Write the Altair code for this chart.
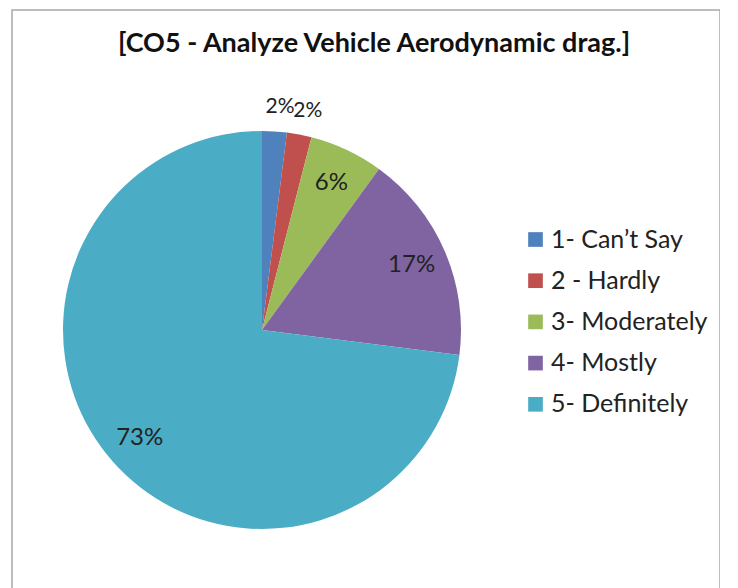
import altair as alt
import pandas as pd

categories = ["1- Can\u2019t Say", "2 - Hardly", "3- Moderately", "4- Mostly", "5- Definitely"]
values = [2, 2, 6, 17, 73]
labels = ["2%", "2%", "6%", "17%", "73%"]
colors = ["#4F81BD", "#C0504D", "#9BBB59", "#8064A2", "#4BACC6"]
title_text = "[CO5 - Analyze Vehicle Aerodynamic drag.]"

df = pd.DataFrame({"category": categories, "value": values, "label": labels,
                   "idx": list(range(len(categories)))})

FONT = "Lato"
CX, CY, R = 250, 320, 199

pie = alt.Chart(df).mark_arc(outerRadius=R, stroke=None).encode(
    x=alt.value(CX), y=alt.value(CY),
    theta=alt.Theta("value:Q", stack=True),
    order=alt.Order("idx:Q"),
    color=alt.Color(
        "category:N",
        scale=alt.Scale(domain=categories, range=colors),
        sort=categories,
        legend=alt.Legend(
            title=None, orient="none", legendX=511, legendY=217,
            symbolType="square", symbolSize=215, symbolStrokeWidth=0,
            labelFont=FONT, labelFontSize=25, labelColor="#222222",
            rowPadding=15.2, padding=0, labelOffset=3,
        ),
    ),
)

label_base = alt.Chart(df).transform_window(
    cum="sum(value)", sort=[alt.SortField("idx")], frame=[None, 0]
).transform_joinaggregate(
    total="sum(value)"
).transform_calculate(
    mid="(datum.cum - datum.value / 2) / datum.total * 2 * PI"
)

outer_labels = label_base.transform_filter("datum.value < 3").mark_text(
    font=FONT, fontSize=21, color="#222222", dx=4
).encode(
    x=alt.value(CX), y=alt.value(CY),
    theta=alt.Theta("mid:Q", scale=None),
    radius=alt.value(223),
    text="label:N",
)

inner_labels = label_base.transform_filter("datum.value >= 3").mark_text(
    font=FONT, fontSize=24, color="#222222"
).encode(
    x=alt.value(CX), y=alt.value(CY),
    theta=alt.Theta("mid:Q", scale=None),
    radius=alt.value(163),
    text="label:N",
)

chart = alt.layer(pie, inner_labels, outer_labels).properties(
    width=708, height=590,
    autosize=alt.AutoSizeParams(type="none"),
    padding={"left": 4, "right": 0, "top": 2, "bottom": 0},
    title=alt.TitleParams(title_text, font=FONT, fontSize=27, fontWeight="bold",
                          color="#111111", anchor="middle", offset=-48, dx=8),
).configure_view(stroke="#a8a8a8", strokeWidth=1.5)

chart.save("out.html", embed_options={"renderer": "svg", "actions": False})
